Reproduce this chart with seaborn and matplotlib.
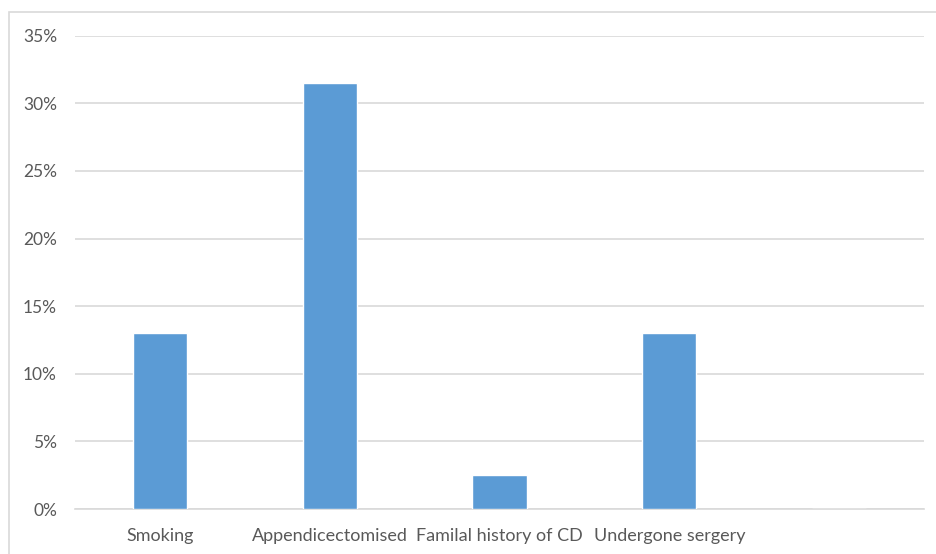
import matplotlib
matplotlib.use("Agg")
import matplotlib.pyplot as plt
import seaborn as sns
import pandas as pd
from matplotlib.patches import Rectangle
from matplotlib.ticker import FuncFormatter

categories = ["Smoking", "Appendicectomised", "Familal history of CD", "Undergone sergery", ""]
values = [0.13, 0.315, 0.025, 0.13, 0.0]
y_ticks = [0, 0.05, 0.10, 0.15, 0.20, 0.25, 0.30, 0.35]

df = pd.DataFrame({"category": categories, "value": values})

sns.set_theme(style="white")
plt.rcParams["font.family"] = ["Lato", "DejaVu Sans"]

W, H = 936, 554
fig = plt.figure(figsize=(W / 100, H / 100), dpi=100)
ax = fig.add_axes([75 / W, 1 - 509 / H, (924 - 75) / W, (509 - 35.7) / H])

sns.barplot(data=df, x="category", y="value", color="#5b9bd5", width=0.32,
            saturation=1, ax=ax, zorder=3)

ax.set_ylim(0, 0.35)
ax.set_xlim(-0.5, len(categories) - 0.5)
ax.set_yticks(y_ticks)
ax.yaxis.set_major_formatter(FuncFormatter(lambda v, _: f"{v * 100:.0f}%"))
ax.grid(axis="y", color="#d9d9d9", linewidth=1.2, zorder=0)
ax.set_xlabel("")
ax.set_ylabel("")
for side in ["top", "right", "left"]:
    ax.spines[side].set_visible(False)
ax.spines["bottom"].set_color("#d9d9d9")
ax.spines["bottom"].set_linewidth(1.2)
ax.tick_params(axis="both", length=0, colors="#595959")
ax.tick_params(axis="x", pad=14, labelsize=13)
ax.tick_params(axis="y", pad=13, labelsize=12.5)

# chart area frame
fig.patches.append(Rectangle((9 / W, -0.1), 1.2, 1.1 - 11.5 / H,
                             transform=fig.transFigure, fill=False,
                             edgecolor="#d9d9d9", linewidth=1.2))

fig.savefig("out.png", dpi=100, facecolor="white")
